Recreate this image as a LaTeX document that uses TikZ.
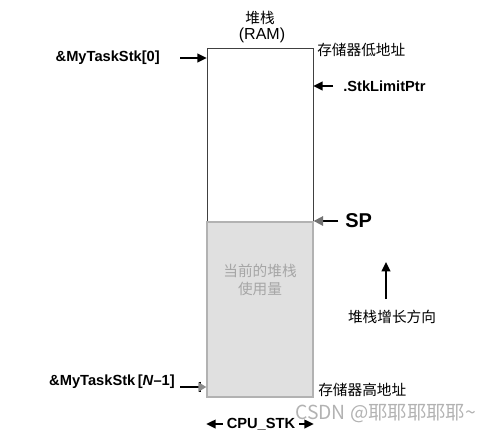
\documentclass[tikz,border=0pt]{standalone}
\usepackage{fontspec}
\setmainfont{Liberation Sans}
\newfontfamily\cjk{Noto Sans CJK SC}
\usetikzlibrary{arrows.meta}
\tikzstyle{lbl} = [font=\fontsize{11}{13}\selectfont\bfseries, inner sep=0pt]
\tikzstyle{cnlbl} = [font=\fontsize{11}{13}\selectfont\cjk, inner sep=0pt]
\tikzstyle{stktop} = [rectangle, draw=black!75, thin, fill=white, inner sep=0pt,
minimum width=79.5pt, minimum height=130.5pt]
\tikzstyle{stkused} = [rectangle, draw=black!30, line width=1pt, fill=black!12, inner sep=0pt,
minimum width=79.5pt, minimum height=131.25pt]
\tikzstyle{ptr} = [->, line width=1.3pt]
\tikzset{>={Triangle[length=7pt,width=6.5pt]}}

\begin{document}
\begin{tikzpicture}[x=0.75pt, y=-0.75pt]
  \useasboundingbox (0,0) rectangle (493,437);

  % the stack in RAM
  \node[cnlbl] (title) at (260,18) {堆栈};
  \node[font=\fontsize{12}{13}\selectfont, inner sep=0pt] (ram) at (262,35) {(RAM)};
  \node[stktop] (free) at (260,135) {};
  \node[stkused] (used) at (260,309.5) {};
  \node[cnlbl, text=black!35, align=center] (usage) at (260,280) {当前的堆栈\\使用量};

  % left side
  \node[lbl, anchor=east] (tsk0) at (160,58) {\&MyTaskStk[0]};
  \draw[ptr, shorten <=15pt] (tsk0.east) -- (tsk0.east -| free.west);

  \node[lbl, anchor=east] (tskN) at (175,382) {\&MyTaskStk\,[\textit{N}–1]};
  \coordinate (ntail) at (180,387);
  \coordinate (ntick) at (200,387);
  \draw[line width=1.3pt] (ntail) -- (ntick);
  \draw[line width=1pt] ([yshift=4pt]ntick) -- ([yshift=-4pt]ntick);
  \draw[line width=1pt, -{Triangle[length=6pt,width=7pt,color=black!45]}] (ntick) -- (ntick -| used.west);

  % right side
  \node[cnlbl, anchor=west] (lowaddr) at (317,50) {存储器低地址};
  \node[lbl, anchor=west] (limit) at (343,86) {.StkLimitPtr};
  \draw[ptr, shorten <=7.5pt] (limit.west) -- (limit.west -| free.east);

  \node[lbl, font=\fontsize{15}{17}\selectfont\bfseries, anchor=west] (sp) at (345,221) {SP};
  \draw[line width=1.3pt, -{Triangle[length=7pt,width=7pt,color=black!55]}, shorten <=5pt]
    (sp.west) -- (sp.west -| used.east);

  \coordinate (gbot) at (386,299);
  \coordinate (gtop) at (386,262);
  \draw[ptr] (gbot) -- (gtop);
  \node[cnlbl] (grow) at (392,317) {堆栈增长方向};

  \node[cnlbl, anchor=west] (highaddr) at (318,390) {存储器高地址};

  % width of the stack
  \node[lbl] (cpustk) at (261,424) {CPU\_STK};
  \draw[ptr, shorten <=3pt] (cpustk.west) -- (cpustk.west -| used.west);
  \draw[ptr, shorten <=3pt] (cpustk.east) -- (cpustk.east -| used.east);

  \node[font=\fontsize{14.5}{16}\selectfont\cjk, text=black!30, inner sep=0pt, anchor=west] (mark) at (295,414) {CSDN @耶耶耶耶耶\textasciitilde};
\end{tikzpicture}
\end{document}
